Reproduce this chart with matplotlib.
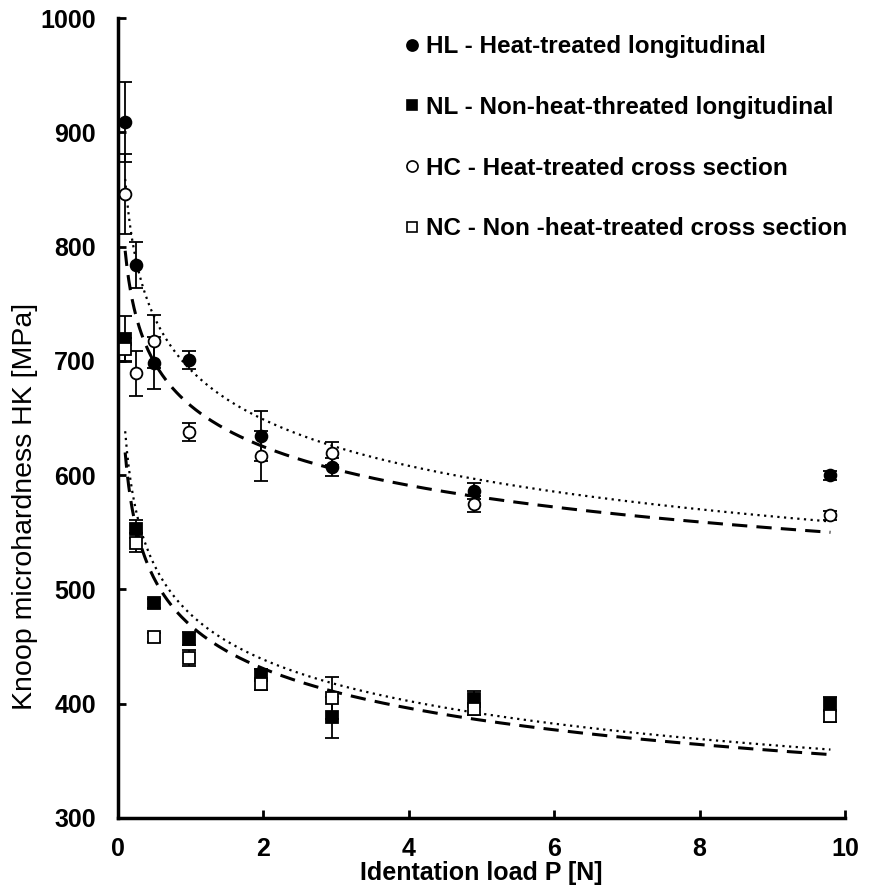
import numpy as np
import matplotlib
matplotlib.use("Agg")
import matplotlib.pyplot as plt
from matplotlib.lines import Line2D

plt.rcParams['font.family'] = ['Liberation Sans', 'DejaVu Sans']
plt.rcParams['font.weight'] = 'bold'

load = [0.098, 0.245, 0.49, 0.98, 1.96, 2.94, 4.9, 9.8]

hl = [909, 784, 698, 701, 634, 607, 586, 600]
hl_err = [35, 20, 23, 8, 22, 8, 7, 4]
nl = [719, 553, 488, 457, 425, 388, 404, 400]
nl_err = [20, 8, 4, 6, 5, 18, 7, 6]
hc = [846, 689, 717, 638, 617, 619, 575, 565]
hc_err = [35, 20, 23, 8, 22, 10, 7, 4]
nc = [710, 541, 458, 440, 417, 405, 395, 389]
nc_err = [10, 8, 4, 7, 5, 18, 5, 5]

labels = ["HL - Heat-treated longitudinal",
          "NL - Non-heat-threated longitudinal",
          "HC - Heat-treated cross section",
          "NC - Non -heat-treated cross section"]

fig = plt.figure(figsize=(8.77, 8.92), dpi=100)
ax = fig.add_axes([0.1346, 0.0830, 0.8289, 0.8968])

x = np.array(load)

def power_fit(xv, yv):
    b, lna = np.polyfit(np.log(xv), np.log(yv), 1)
    return np.exp(lna), b

xx = np.linspace(load[0], load[-1], 400)
for ser, ls in [(hl, (0, (1, 2))), (hc, (0, (5, 3))), (nl, (0, (1, 2))), (nc, (0, (5, 3)))]:
    a, b = power_fit(x, np.array(ser))
    lw = 1.6 if ls[1][0] == 1 else 2.2
    ax.plot(xx, a * xx ** b, color='black', lw=lw, ls=ls, zorder=2)

series = [(hl, hl_err, 'o', 'black'), (nl, nl_err, 's', 'black'),
          (hc, hc_err, 'o', 'white'), (nc, nc_err, 's', 'white')]
for ser, err, m, fc in series:
    ax.errorbar(load, ser, yerr=err, fmt=m, mfc=fc, mec='black', ms=8.5 if m == 'o' else 8,
                mew=1.3, ecolor='black', elinewidth=1.3, capsize=5, capthick=1.3, zorder=3)

ax.set_xlim(0, 10)
ax.set_ylim(300, 1000)
ax.set_xticks([0, 2, 4, 6, 8, 10])
ax.set_yticks(range(300, 1001, 100))
for s in ['top', 'right']:
    ax.spines[s].set_visible(False)
for s in ['left', 'bottom']:
    ax.spines[s].set_linewidth(2.5)
ax.tick_params(axis='y', direction='in', length=6, width=2, labelsize=18, pad=16)
ax.tick_params(axis='x', direction='in', length=6, width=2, labelsize=18, pad=14)
for t in ax.get_xticklabels() + ax.get_yticklabels():
    t.set_fontweight('bold')
ax.set_xlabel("Identation load P [N]", fontsize=18, fontweight='bold', labelpad=0)
ax.set_ylabel("Knoop microhardness HK [MPa]", fontsize=20.5, fontweight='normal')
ax.yaxis.set_label_coords(-0.11, 0.39)

handles = [Line2D([], [], ls='none', marker=m, mfc=fc, mec='black', ms=8 if m == 'o' else 7.5, mew=1.2)
           for _, _, m, fc in series]
leg = fig.legend(handles, labels, loc='upper left', bbox_to_anchor=(0.436, 0.985),
                 frameon=False, handlelength=0.6, handletextpad=0.3,
                 labelspacing=1.55, prop={'weight': 'bold', 'size': 17.5})

fig.savefig('out.png', dpi=100)
